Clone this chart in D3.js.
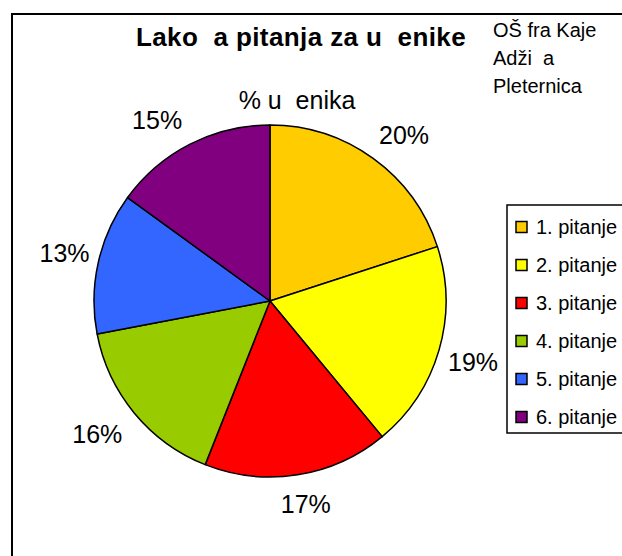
<!DOCTYPE html>
<html>
<head>
<meta charset="utf-8">
<script src="https://cdn.jsdelivr.net/npm/d3@7"></script>
<style>
  html, body { margin: 0; padding: 0; background: #fff; }
  svg { display: block; }
  text { font-family: "Liberation Sans", Arial, sans-serif; white-space: pre; }
</style>
</head>
<body>
<svg id="chart" width="622" height="556"></svg>
<script>
// Share of students per question
const categories = ["1. pitanje", "2. pitanje", "3. pitanje", "4. pitanje", "5. pitanje", "6. pitanje"];
const values = [20, 19, 17, 16, 13, 15];
const colors = ["#FFCC00", "#FFFF00", "#FF0000", "#99CC00", "#3366FF", "#800080"];
const titleText = "Lako  a pitanja za u  enike";
const subtitleText = "% u  enika";
const schoolLines = ["OŠ fra Kaje", "Adži  a", "Pleternica"];

// label placement tweaks (degrees / px) so labels clear the heading
const labelTurn = [3, 0.5, -1, 2, 0.5, -5];
const labelDist = [213, 212, 206, 218, 211, 213];

const svg = d3.select("#chart");
const W = 622, H = 556;

// outer frame (runs past the right and bottom edges)
svg.append("rect")
  .attr("x", 12).attr("y", 14)
  .attr("width", W + 20).attr("height", H + 20)
  .attr("fill", "none").attr("stroke", "#000").attr("stroke-width", 2);

// title
svg.append("text")
  .attr("x", 301).attr("y", 46)
  .attr("text-anchor", "middle")
  .attr("font-weight", "bold").attr("font-size", 26)
  .attr("letter-spacing", 0.4)
  .text(titleText);

// school name, top right
svg.selectAll("text.school").data(schoolLines).join("text")
  .attr("class", "school")
  .attr("x", 493).attr("y", (d, i) => 37 + i * 28)
  .attr("font-size", 20)
  .text(d => d);

// series name above the pie
svg.append("text")
  .attr("x", 297).attr("y", 109)
  .attr("text-anchor", "middle")
  .attr("font-size", 25)
  .text(subtitleText);

// pie
const cx = 270, cy = 301, r = 176;
const pie = d3.pie().sort(null).value(d => d)(values);
const arc = d3.arc().innerRadius(0).outerRadius(r);

const g = svg.append("g").attr("transform", `translate(${cx},${cy})`);
g.selectAll("path").data(pie).join("path")
  .attr("d", arc)
  .attr("fill", (d, i) => colors[i])
  .attr("stroke", "#000").attr("stroke-width", 1.5)
  .attr("stroke-linejoin", "round");

g.selectAll("text.pct").data(pie).join("text")
  .attr("class", "pct")
  .attr("transform", (d, i) => {
    const a = (d.startAngle + d.endAngle) / 2 + labelTurn[i] * Math.PI / 180;
    const c = d3.arc().innerRadius(labelDist[i]).outerRadius(labelDist[i])
      .centroid({ startAngle: a, endAngle: a });
    return `translate(${c})`;
  })
  .attr("text-anchor", "middle")
  .attr("dominant-baseline", "central")
  .attr("font-size", 25)
  .text(d => d.data + "%");

// legend
const legend = svg.append("g");
legend.append("rect")
  .attr("x", 507).attr("y", 205)
  .attr("width", 140).attr("height", 228)
  .attr("fill", "#fff").attr("stroke", "#000").attr("stroke-width", 1.5);

const ly = d3.scalePoint().domain(categories).range([227, 417]);
const items = legend.selectAll("g.item").data(categories).join("g")
  .attr("class", "item")
  .attr("transform", d => `translate(0,${ly(d)})`);
items.append("rect")
  .attr("x", 516).attr("y", -5.5).attr("width", 11).attr("height", 11)
  .attr("fill", (d, i) => colors[i])
  .attr("stroke", "#000").attr("stroke-width", 1.5);
items.append("text")
  .attr("x", 536).attr("y", 7)
  .attr("font-size", 20)
  .text(d => d);
</script>
</body>
</html>
